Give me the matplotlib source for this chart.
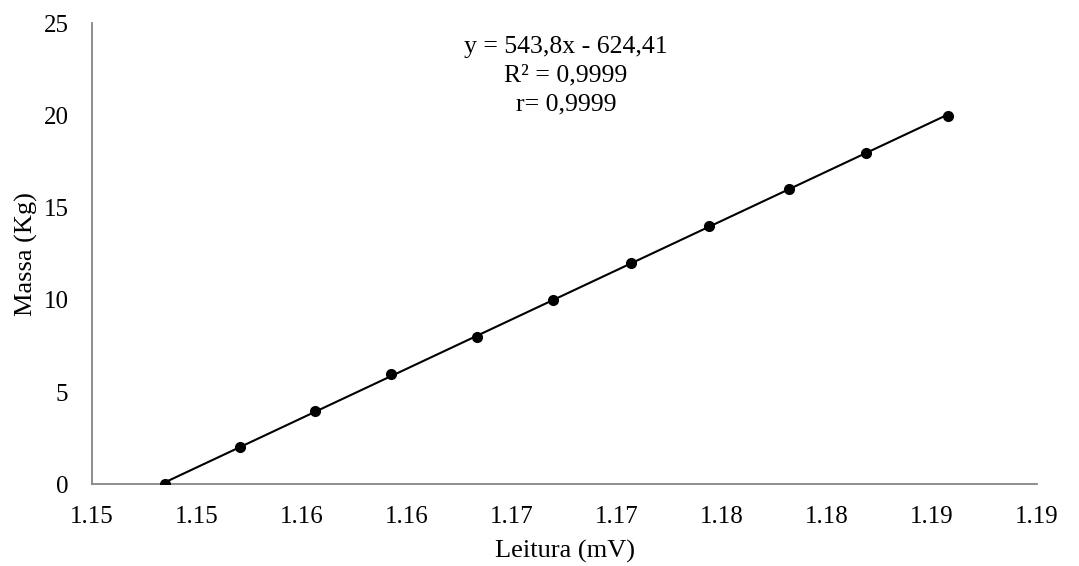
import matplotlib
matplotlib.use("Agg")
import matplotlib.pyplot as plt
import numpy as np

leitura = [1.14848, 1.15206, 1.15563, 1.15922, 1.16333, 1.16697,
           1.17065, 1.17440, 1.17820, 1.18184, 1.18578]
massa = [0, 2, 4, 6, 8, 10, 12, 14, 16, 18, 20]
x_ticks = [1.145, 1.150, 1.155, 1.160, 1.165, 1.170, 1.175, 1.180, 1.185, 1.190]
x_tick_labels = ["1.15", "1.15", "1.16", "1.16", "1.17", "1.17", "1.18", "1.18", "1.19", "1.19"]
y_ticks = [0, 5, 10, 15, 20, 25]
annotation = "y = 543,8x - 624,41\nR² = 0,9999\nr= 0,9999"

plt.rcParams['font.family'] = ['Liberation Serif', 'DejaVu Serif']

fig = plt.figure(figsize=(10.79, 5.66), dpi=100)
ax = fig.add_axes([0.0853, 0.1444, 0.8758, 0.8141])

x = np.array(leitura)
y = np.array(massa)
coef = np.polyfit(x, y, 1)
xl = np.array([x.min(), x.max()])
ax.plot(xl, np.polyval(coef, xl), color='black', lw=1.5, zorder=2)
ax.plot(x, y, 'o', color='black', markersize=7, zorder=3)

ax.set_xlim(1.145, 1.190)
ax.set_ylim(0, 25)
ax.set_xticks(x_ticks)
ax.set_xticklabels(x_tick_labels)
ax.set_yticks(y_ticks)
ax.tick_params(axis='both', length=0, labelsize=18)
ax.tick_params(axis='x', pad=15.5)
ax.tick_params(axis='y', pad=17)

for s in ['top', 'right']:
    ax.spines[s].set_visible(False)
for s in ['left', 'bottom']:
    ax.spines[s].set_color('#868686')
    ax.spines[s].set_linewidth(1.3)

ax.set_xlabel("Leitura (mV)", fontsize=19, labelpad=9)
ax.set_ylabel("Massa (Kg)", fontsize=19, labelpad=4)

ax.text(0.5016, 0.973, annotation, transform=ax.transAxes, ha='center', va='top',
        fontsize=18.5, linespacing=1.4, multialignment='center')

fig.savefig("out.png", dpi=100)
